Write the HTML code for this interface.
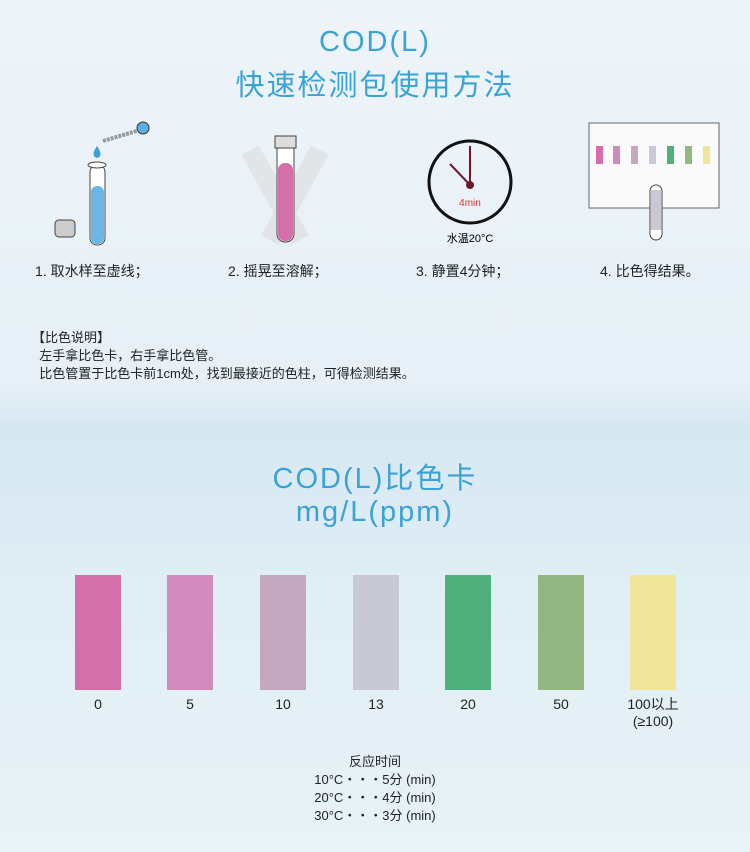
<!DOCTYPE html><html><head><meta charset="utf-8"><style>
body{margin:0;width:750px;height:852px;overflow:hidden;position:relative;font-family:"Liberation Sans","Noto Sans CJK SC",sans-serif;background:linear-gradient(180deg,#eef4f9 0%,#e6f0f6 45%,#d7e8f2 50%,#e0eef5 70%,#e8f2f7 100%);color:#222}
.a{position:absolute}
.t{color:#3aa3d6;text-align:center;width:750px;left:0}
.bar{position:absolute;top:575px;width:46px;height:115px}
.lb{position:absolute;top:696px;width:80px;text-align:center;font-size:14px}
</style></head><body>
<div class="a t" style="top:26px;font-size:29px;letter-spacing:2px">COD(L)</div>
<div class="a t" style="top:62px;font-size:29px;letter-spacing:2px">快速检测包使用方法</div>

<svg class="a" style="left:0;top:100px" width="750" height="160">
<line x1="103" y1="41" x2="140" y2="30" stroke="#999" stroke-width="4" stroke-dasharray="3 1"/>
<circle cx="143" cy="28" r="6" fill="#5aaee0" stroke="#333"/>
<path d="M97 46 Q90 56 97 58 Q104 56 97 46Z" fill="#3f9fdd"/>
<rect x="90" y="65" width="15" height="80" rx="7" fill="#fff" stroke="#444"/>
<rect x="91" y="86" width="13" height="58" rx="6" fill="#6ab7e6"/>
<ellipse cx="97" cy="65" rx="9" ry="3" fill="#fff" stroke="#444"/>
<rect x="55" y="120" width="20" height="17" rx="4" fill="#ccc" stroke="#444"/>
<path d="M250 50 L300 140 M320 50 L270 140" stroke="#ddd" stroke-width="20" opacity=".6"/>
<rect x="277" y="42" width="17" height="100" rx="8" fill="#fff" stroke="#444"/>
<rect x="278" y="63" width="15" height="78" rx="7" fill="#d46fa9"/>
<rect x="275" y="36" width="21" height="12" fill="#ddd" stroke="#444"/>
<circle cx="470" cy="82" r="41" fill="none" stroke="#111" stroke-width="3"/>
<line x1="470" y1="85" x2="470" y2="46" stroke="#6b1a2a" stroke-width="2"/>
<line x1="470" y1="85" x2="450" y2="64" stroke="#6b1a2a" stroke-width="2"/>
<circle cx="470" cy="85" r="4" fill="#6b1a2a"/>
<text x="470" y="106" font-size="10" fill="#d33" text-anchor="middle" font-family="Liberation Sans">4min</text>
<text x="470" y="142" font-size="11" text-anchor="middle" font-family="Liberation Sans,Noto Sans CJK SC">水温20°C</text>
<rect x="589" y="23" width="130" height="85" fill="#fafafa" stroke="#666"/>
<rect x="596" y="46" width="7" height="18" fill="#d46fa9"/><rect x="613" y="46" width="7" height="18" fill="#d08abb"/><rect x="631" y="46" width="7" height="18" fill="#c3a8c0"/><rect x="649" y="46" width="7" height="18" fill="#c9c9d6"/><rect x="667" y="46" width="7" height="18" fill="#4fb07c"/><rect x="685" y="46" width="7" height="18" fill="#94b683"/><rect x="703" y="46" width="7" height="18" fill="#f0e59a"/>
<rect x="650" y="85" width="12" height="55" rx="6" fill="#fff" stroke="#444"/>
<rect x="651" y="90" width="10" height="40" fill="#c9c9d6"/>
</svg>
<div class="a" style="left:35px;top:261px;font-size:14px">1. 取水样至虚线；</div>
<div class="a" style="left:228px;top:261px;font-size:14px">2. 摇晃至溶解；</div>
<div class="a" style="left:416px;top:261px;font-size:14px">3. 静置4分钟；</div>
<div class="a" style="left:600px;top:261px;font-size:14px">4. 比色得结果。</div>

<div class="a" style="left:32px;top:329px;font-size:13px;line-height:18px">【比色说明】<br>&nbsp;&nbsp;左手拿比色卡，右手拿比色管。<br>&nbsp;&nbsp;比色管置于比色卡前1cm处，找到最接近的色柱，可得检测结果。</div>

<div class="a t" style="top:455px;font-size:29px;letter-spacing:2px">COD(L)比色卡</div>
<div class="a t" style="top:496px;font-size:29px;letter-spacing:2px">mg/L(ppm)</div>

<div class="bar" style="left:75px;background:#d46fa9"></div>
<div class="bar" style="left:167px;background:#d08abb"></div>
<div class="bar" style="left:260px;background:#c3a8c0"></div>
<div class="bar" style="left:353px;background:#c9c9d6"></div>
<div class="bar" style="left:445px;background:#4fb07c"></div>
<div class="bar" style="left:538px;background:#94b683"></div>
<div class="bar" style="left:630px;background:#f0e59a"></div>
<div class="lb" style="left:58px">0</div>
<div class="lb" style="left:150px">5</div>
<div class="lb" style="left:243px">10</div>
<div class="lb" style="left:336px">13</div>
<div class="lb" style="left:428px">20</div>
<div class="lb" style="left:521px">50</div>
<div class="lb" style="left:613px;line-height:17px">100以上<br>(≥100)</div>

<div class="a" style="left:0;width:750px;text-align:center;top:753px;font-size:13px;line-height:18px">反应时间<br>10°C・・・5分 (min)<br>20°C・・・4分 (min)<br>30°C・・・3分 (min)</div>
</body></html>
